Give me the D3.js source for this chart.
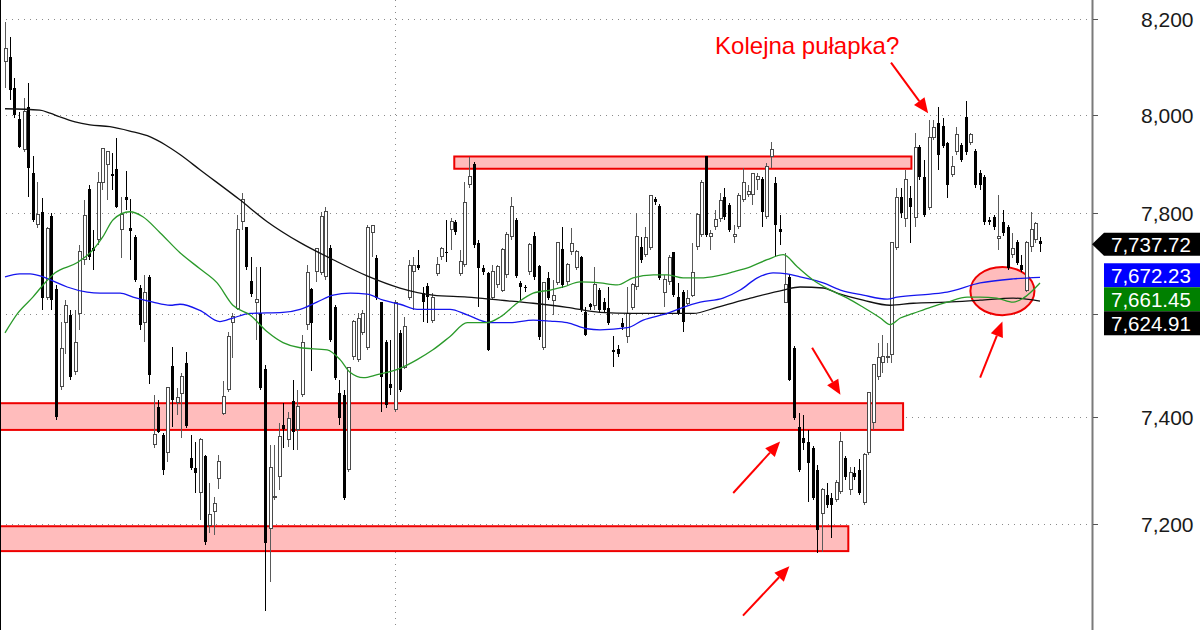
<!DOCTYPE html>
<html><head><meta charset="utf-8">
<script src="https://cdn.jsdelivr.net/npm/d3@7"></script>
<style>html,body{margin:0;padding:0;background:#fff;}svg{display:block;}</style>
</head><body><svg id="c" width="1200" height="630"></svg>
<script>
const openP=[8111,8121,8056,7992,7929,8017,7882,7777,7803,7633,
7795,7649,7459,7583,7598,7488,7601,7707,7849,7731,
7747,7862,7898,7880,7890,7767,7833,7771,7753,7651,
7583,7673,7348,7420,7367,7333,7499,7429,7445,7505,
7323,7303,7257,7327,7197,7223,7284,7408,7453,7583,
7611,7783,7773,7665,7623,7601,7492,7190,7250,7287,
7386,7357,7431,7376,7443,7579,7649,7683,7681,7673,
7731,7613,7447,7443,7301,7517,7511,7563,7534,7761,
7711,7623,7546,7463,7414,7563,7496,7633,7683,7697,
7641,7655,7588,7679,7713,7723,7767,7783,7679,7697,
7858,7900,7741,7691,7681,7633,7657,7647,7677,7753,
7787,7661,7653,7683,7755,7695,7534,7671,7627,7661,
7729,7663,7723,7691,7713,7603,7619,7617,7647,7623,
7611,7530,7532,7583,7556,7613,7653,7733,7717,7731,
7829,7815,7643,7663,7723,7633,7643,7621,7637,7733,
7757,7915,7753,7773,7789,7833,7817,7753,7773,7827,
7837,7837,7868,7870,7793,7915,7862,7769,7623,7673,
7534,7382,7361,7354,7342,7301,7219,7253,7248,7244,
7259,7323,7263,7295,7301,7240,7333,7391,7478,7505,
7515,7521,7731,7833,7789,7831,7791,7935,7874,7811,
7953,7984,7978,7943,7878,7925,7939,7996,7943,7927,
7882,7874,7787,7793,7749,7783,7773,7717,7743,7697,
7647,7733,7747,7745];
const closeP=[8138,8052,8000,7935,8008,7892,7787,7797,7631,7769,
7627,7401,7532,7617,7478,7544,7723,7795,7713,7725,
7862,7931,7925,7876,7813,7797,7827,7765,7667,7579,
7643,7482,7367,7372,7301,7457,7433,7437,7478,7384,
7304,7295,7357,7166,7216,7238,7316,7439,7556,7594,
7767,7827,7693,7639,7629,7457,7164,7304,7251,7363,
7378,7397,7372,7420,7544,7681,7583,7729,7793,7803,
7550,7476,7399,7248,7496,7585,7592,7601,7771,7775,
7631,7478,7424,7457,7623,7453,7575,7695,7695,7691,
7623,7633,7633,7697,7729,7721,7783,7763,7703,7821,
7874,7737,7691,7683,7530,7683,7693,7727,7757,7813,
7675,7653,7651,7737,7673,7554,7661,7631,7637,7741,
7657,7697,7739,7723,7607,7559,7613,7657,7607,7607,
7583,7525,7521,7575,7601,7657,7753,7707,7751,7835,
7823,7671,7667,7711,7637,7601,7585,7631,7681,7797,
7862,7757,7759,7787,7825,7793,7767,7757,7835,7862,
7843,7880,7874,7803,7894,7929,7777,7763,7657,7472,
7399,7301,7352,7314,7248,7188,7263,7235,7235,7276,
7354,7287,7295,7287,7257,7329,7447,7501,7515,7517,
7517,7741,7831,7801,7868,7813,7933,7874,7797,7953,
7974,7919,7937,7856,7894,7959,7908,7925,7959,7856,
7856,7783,7783,7773,7753,7761,7691,7729,7701,7687,
7741,7767,7779,7738];
const highP=[8194,8163,8077,8006,8036,8067,7915,7864,7831,7773,
7801,7657,7585,7627,7607,7607,7737,7827,7858,7767,
7884,7933,7927,7923,7953,7833,7886,7829,7757,7657,
7677,7677,7443,7433,7371,7457,7536,7457,7486,7525,
7367,7354,7361,7329,7276,7250,7329,7469,7565,7601,
7797,7841,7773,7713,7693,7693,7501,7348,7348,7389,
7427,7410,7472,7453,7559,7697,7651,7729,7803,7813,
7737,7617,7472,7453,7496,7588,7601,7607,7777,7775,
7717,7623,7550,7550,7627,7569,7594,7707,7713,7727,
7653,7661,7641,7713,7733,7787,7791,7787,7727,7864,
7913,7904,7747,7697,7683,7697,7697,7731,7763,7833,
7791,7665,7657,7741,7763,7697,7661,7683,7667,7743,
7773,7701,7771,7727,7715,7613,7621,7693,7651,7631,
7653,7556,7540,7592,7653,7661,7801,7753,7773,7835,
7833,7819,7677,7717,7723,7661,7647,7647,7741,7801,
7868,7915,7767,7807,7841,7851,7821,7777,7841,7892,
7856,7882,7882,7874,7902,7945,7874,7797,7721,7677,
7538,7408,7405,7376,7346,7310,7267,7276,7257,7282,
7372,7327,7306,7306,7320,7333,7447,7501,7544,7559,
7544,7743,7851,7851,7888,7854,7963,7939,7908,7990,
7990,8017,7994,7945,7915,7976,7943,8029,7963,7931,
7888,7878,7793,7797,7837,7807,7777,7761,7747,7717,
7745,7803,7783,7753];
const lowP=[8056,8031,7994,7933,7925,7833,7783,7771,7607,7627,
7607,7395,7453,7521,7472,7482,7569,7697,7707,7687,
7737,7847,7827,7847,7811,7711,7807,7707,7663,7569,
7546,7463,7342,7371,7291,7316,7382,7405,7361,7380,
7301,7257,7206,7160,7182,7178,7265,7405,7449,7515,
7607,7767,7687,7633,7550,7453,7040,7092,7244,7263,
7342,7344,7338,7338,7439,7569,7488,7663,7677,7667,
7546,7472,7386,7244,7297,7511,7507,7559,7530,7713,
7627,7410,7418,7443,7410,7449,7492,7627,7607,7687,
7585,7583,7583,7675,7707,7703,7727,7757,7675,7693,
7851,7731,7613,7677,7527,7627,7651,7643,7671,7747,
7671,7627,7643,7677,7667,7550,7530,7627,7598,7657,
7651,7657,7717,7687,7603,7556,7607,7607,7603,7603,
7579,7496,7517,7569,7544,7607,7647,7701,7713,7727,
7817,7667,7613,7657,7633,7598,7565,7617,7633,7727,
7753,7753,7727,7767,7783,7787,7763,7741,7769,7823,
7833,7817,7847,7773,7789,7892,7713,7737,7621,7469,
7395,7297,7338,7240,7244,7145,7147,7229,7173,7240,
7255,7282,7253,7282,7253,7235,7329,7376,7472,7486,
7505,7505,7727,7791,7773,7741,7773,7868,7793,7807,
7949,7888,7933,7831,7874,7919,7904,7919,7939,7851,
7847,7777,7777,7767,7727,7755,7687,7711,7697,7683,
7643,7723,7741,7723];

// moving averages: [bar index, value]
const maBlack=[[0,8013],[7.5,8010],[9.7,8004],[11.9,7996],[15.1,7986],[18.3,7980],[22.6,7976],[26.9,7967],[31.3,7955],[34.5,7939],[37.7,7919],[42,7888],[50.6,7827],[56.5,7783],[63.6,7741],[70.7,7707],[78,7675],[85.1,7651],[92.2,7637],[99.6,7633],[106.7,7627],[113.8,7621],[121.1,7613],[128.2,7603],[135.3,7601],[142.7,7601],[148.3,7601],[153.4,7613],[160.6,7631],[167.7,7647],[171.3,7653],[176.3,7651],[179.3,7641],[184.9,7627],[190.7,7617],[195.7,7621],[203,7623],[210.1,7627],[217.2,7631],[223,7625]];
const maBlue=[[0,7673],[3.2,7679],[5.4,7679],[8.2,7673],[10.8,7663],[13.4,7653],[17.7,7643],[20.5,7641],[24.8,7641],[27.6,7633],[31.9,7623],[35.6,7617],[37.7,7619],[42,7607],[46.3,7585],[49.1,7592],[52.8,7601],[59.9,7603],[63.6,7609],[67.2,7623],[70.7,7637],[74.4,7641],[78,7639],[81.5,7627],[85.1,7619],[88.8,7609],[95.9,7609],[99.6,7598],[104.5,7583],[108.8,7583],[113.8,7588],[117.5,7586],[121.1,7583],[125.4,7571],[128.2,7569],[134.1,7573],[137.5,7588],[142.7,7601],[146.1,7613],[149.8,7623],[154.7,7631],[158.4,7647],[162.1,7671],[165.5,7681],[168.5,7679],[171.3,7673],[176.3,7661],[180,7647],[184.9,7637],[190.1,7629],[192.2,7633],[199.4,7639],[203,7643],[210.1,7661],[217.2,7669],[223,7672]];
const maGreen=[[0,7563],[2.8,7602],[6,7633],[8.2,7657],[10.8,7681],[15.5,7701],[19,7727],[21.1,7753],[23.3,7787],[26.9,7803],[29.7,7793],[33.4,7761],[37.7,7721],[42,7689],[45.7,7661],[49.1,7617],[52.8,7598],[56.5,7565],[59.9,7544],[63.6,7534],[69.4,7530],[72.2,7511],[74.4,7486],[77.2,7476],[80.2,7482],[85.1,7494],[88.8,7511],[92.2,7530],[95.9,7556],[99.6,7583],[103.9,7583],[106.7,7594],[110.3,7621],[113.8,7641],[117.5,7647],[120.3,7653],[123.9,7663],[128.2,7661],[131.9,7657],[135.3,7671],[139.7,7677],[142.7,7677],[146.1,7671],[149.8,7671],[153.4,7675],[156.9,7683],[160.6,7693],[164.2,7707],[167.7,7717],[170.7,7693],[174.1,7667],[177.8,7647],[181.5,7631],[184.9,7613],[188.6,7592],[190.7,7579],[192.9,7592],[195.7,7601],[199.4,7613],[203,7623],[207.3,7633],[210.1,7633],[213.7,7631],[217.2,7623],[219.4,7631],[223,7661]];

const yTicks=[7200,7400,7600,7800,8000,8200];
const vGridBars=[84];
const lastTags=[{v:7672.23,c:"#0000ff"},{v:7661.45,c:"#008000"},{v:7624.91,c:"#000000"}];
const lastClose=7737.72;

// annotations (bar index / price)
const zones=[{i0:96.8,i1:195.3,lo:7890,hi:7915},{i0:-4,i1:193.5,lo:7376,hi:7427},{i0:-4,i1:181.7,lo:7149,hi:7195}];
const ellipse={i:214.9,di:6.9,lo:7598,hi:7693,mid:7645};
const arrows=[[190.9,8109,198.9,8004],[173.9,7534,180,7443],[156.9,7257,167,7354],[159,7031,169,7121],[210.1,7476,214.9,7585]];
const note={i:153,v:8127,text:"Kolejna pułapka?"};

const svg=d3.select("#c");
const axisX=1092;
const x=d3.scaleLinear().domain([0,223]).range([5,1040]);
const y=d3.scaleLog().domain([7005,8241]).range([630,0]);
const fmt=d3.format(",");
const fmt2=d3.format(",.2f");
const FONT="Liberation Sans, Arial, sans-serif";

// grid
svg.append("g").selectAll("line").data(yTicks).join("line")
  .attr("x1",0).attr("x2",axisX).attr("y1",d=>Math.round(y(d))+0.5).attr("y2",d=>Math.round(y(d))+0.5)
  .attr("stroke","#8a8a8a").attr("stroke-dasharray","1,5");
svg.append("g").selectAll("line").data(vGridBars).join("line")
  .attr("x1",d=>Math.round(x(d))+0.5).attr("x2",d=>Math.round(x(d))+0.5).attr("y1",0).attr("y2",630)
  .attr("stroke","#8a8a8a").attr("stroke-dasharray","1,5");

// zones
svg.append("g").selectAll("rect").data(zones).join("rect")
  .attr("x",d=>x(d.i0)).attr("width",d=>x(d.i1)-x(d.i0))
  .attr("y",d=>y(d.hi)).attr("height",d=>y(d.lo)-y(d.hi))
  .attr("fill","#ffbcbc").attr("stroke","#ee0000").attr("stroke-width",2);
svg.append("ellipse")
  .attr("cx",x(ellipse.i)).attr("cy",y(ellipse.mid))
  .attr("rx",x(ellipse.i+ellipse.di/2)-x(ellipse.i-ellipse.di/2))
  .attr("ry",(y(ellipse.lo)-y(ellipse.hi))/2)
  .attr("fill","#ffbcbc").attr("stroke","#ee0000").attr("stroke-width",2);

// candles
const bars=d3.range(openP.length).map(i=>({i,o:openP[i],h:highP[i],l:lowP[i],c:closeP[i]}));
const cg=svg.append("g").attr("shape-rendering","crispEdges");
bars.forEach(d=>{
  const cx=Math.round(x(d.i))+0.5;
  const up=d.c>=d.o;
  cg.append("line").attr("x1",cx).attr("x2",cx).attr("y1",y(d.h)).attr("y2",y(d.l))
    .attr("stroke",up?"#5a5a5a":"#000");
  const top=y(Math.max(d.o,d.c)), bot=y(Math.min(d.o,d.c));
  if(up){
    cg.append("rect").attr("x",cx-1.5).attr("width",3).attr("y",top).attr("height",Math.max(1,bot-top))
      .attr("fill","#fff").attr("stroke","#4a4a4a").attr("stroke-width",1);
  } else {
    cg.append("rect").attr("x",cx-1.5).attr("width",3).attr("y",top).attr("height",Math.max(1.5,bot-top))
      .attr("fill","#000");
  }
});

// moving averages
const line=d3.line().x(d=>x(d[0])).y(d=>y(d[1])).curve(d3.curveMonotoneX);
[[maBlack,"#111"],[maBlue,"#1515ee"],[maGreen,"#2a9a2a"]].forEach(([d,c])=>{
  svg.append("path").datum(d).attr("d",line).attr("fill","none").attr("stroke",c).attr("stroke-width",1.3);
});

// arrows
arrows.forEach(([i0,v0,i1,v1])=>{
  const x0=x(i0),y0=y(v0),x1=x(i1),y1=y(v1);
  const a=Math.atan2(y1-y0,x1-x0), L=15, w=6.5;
  const bx=x1-L*Math.cos(a), by=y1-L*Math.sin(a);
  svg.append("line").attr("x1",x0).attr("y1",y0).attr("x2",bx).attr("y2",by)
    .attr("stroke","#ff0000").attr("stroke-width",2);
  svg.append("polygon").attr("points",[[x1,y1],[bx+w*Math.sin(a),by-w*Math.cos(a)],[bx-w*Math.sin(a),by+w*Math.cos(a)]].map(p=>p.join(",")).join(" "))
    .attr("fill","#ff0000");
});
svg.append("text").attr("x",x(note.i)).attr("y",y(note.v)).text(note.text)
  .attr("fill","#ff0000").attr("font-family",FONT).attr("font-size",24);

// left border
svg.append("line").attr("x1",0.5).attr("x2",0.5).attr("y1",0).attr("y2",630).attr("stroke","#000");

// last price tag layout (computed first so covered axis labels can be skipped)
const tagH=23, tagGap=24, tagFont=20.5;
const ly=y(lastClose);
const boxes=[{y0:ly-tagH/2,y1:ly+tagH/2}];
let prevC=ly-tagGap;
const tagPos=lastTags.map(t=>{
  let cy=y(t.v)-2;
  if(cy<prevC+tagGap) cy=prevC+tagGap;
  prevC=cy;
  boxes.push({y0:cy-tagGap/2,y1:cy+tagGap/2});
  return {...t,cy};
});

// right axis
svg.append("line").attr("x1",axisX+0.5).attr("x2",axisX+0.5).attr("y1",0).attr("y2",630).attr("stroke","#7a7a7a").attr("stroke-width",2);
const ag=svg.append("g");
yTicks.forEach(t=>{
  const yy=Math.round(y(t))+0.5;
  ag.append("line").attr("x1",axisX+1).attr("x2",axisX+6).attr("y1",yy).attr("y2",yy).attr("stroke","#555");
  const covered=boxes.some(b=>yy+11>b.y0&&yy-11<b.y1);
  if(!covered){
    ag.append("text").attr("x",1141).attr("y",yy).attr("dy","0.36em").text(fmt(t))
      .attr("font-family",FONT).attr("font-size",21).attr("fill","#1a1a1a");
  }
});

// draw tags
svg.append("path").attr("d",`M${axisX},${ly}L${axisX+12},${ly-tagH/2}L1200,${ly-tagH/2}L1200,${ly+tagH/2}L${axisX+12},${ly+tagH/2}Z`).attr("fill","#000");
svg.append("text").attr("x",1111).attr("y",ly).attr("dy","0.36em").text(fmt2(lastClose))
  .attr("font-family",FONT).attr("font-size",tagFont).attr("fill","#fff");
tagPos.forEach(t=>{
  svg.append("rect").attr("x",1104).attr("y",t.cy-tagGap/2).attr("width",96).attr("height",tagGap).attr("fill",t.c);
  svg.append("text").attr("x",1111).attr("y",t.cy).attr("dy","0.36em").text(fmt2(t.v))
    .attr("font-family",FONT).attr("font-size",tagFont).attr("fill","#fff");
});
</script></body></html>
